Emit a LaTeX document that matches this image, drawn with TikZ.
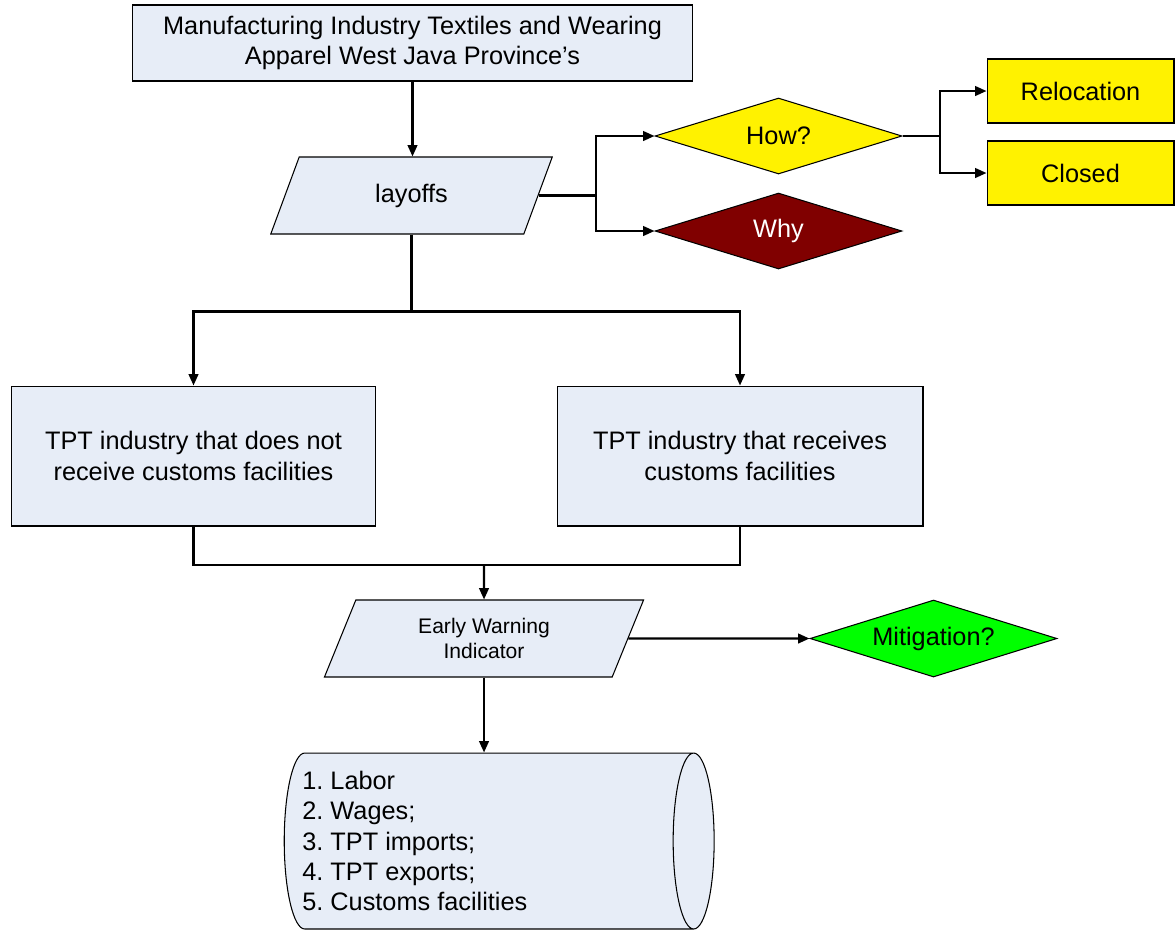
\documentclass[tikz,border=0pt]{standalone}
\usepackage{fontspec}
\setmainfont{Liberation Sans}
\usetikzlibrary{shapes.geometric,arrows.meta}
\definecolor{boxblue}{RGB}{231,237,247}
\definecolor{whyred}{RGB}{128,0,0}
\tikzstyle{procbox}=[rectangle,draw,fill=boxblue,line width=0.6pt,inner sep=2pt,align=center,font=\fontsize{14.4}{17.3}\selectfont]
\tikzstyle{iobox}=[trapezium,trapezium left angle=68.7,trapezium right angle=111.3,trapezium stretches=true,draw,fill=boxblue,line width=0.6pt,inner sep=0pt,align=center,font=\fontsize{14.4}{17.3}\selectfont]
\tikzstyle{decision}=[diamond,shape aspect=3.2,draw,line width=0.6pt,inner sep=0pt,minimum width=4.94cm,minimum height=1.52cm,font=\fontsize{14.4}{17.3}\selectfont]

\begin{document}
\frenchspacing
\begin{tikzpicture}[x=0.02cm,y=0.02cm,>={Triangle[length=6.5pt,width=5.5pt]}]
    \tikzstyle{link}=[line width=1.2pt,->]
    \tikzstyle{endbox}=[procbox,fill=yellow,minimum width=3.74cm,minimum height=1.28cm]
    \useasboundingbox (0,0) rectangle (1175,-931);

    \node[procbox,minimum width=11.22cm,minimum height=1.52cm] (top) at (412.5,-43)
        {Manufacturing Industry Textiles and Wearing\\Apparel West Java Province’s};
    \node[iobox,minimum width=5.66cm,minimum height=1.54cm] (lay) at (411.5,-195.5) {layoffs};
    \node[decision,fill=yellow] (how) at (778.5,-136) {How?};
    \node[decision,fill=whyred,text=white] (why) at (778.5,-231) {Why};
    \node[endbox] (reloc) at (1080.5,-91) {Relocation};
    \node[endbox] (closed) at (1080.5,-173) {Closed};

    \node[procbox,minimum width=7.3cm,minimum height=2.8cm] (nocf) at (193.5,-456)
        {TPT industry that does not\\receive customs facilities};
    \node[procbox,minimum width=7.32cm,minimum height=2.8cm] (cf) at (740,-456)
        {TPT industry that receives\\customs facilities};

    \node[iobox,minimum width=6.4cm,minimum height=1.54cm,font=\fontsize{12}{14.7}\selectfont] (ewi) at (484,-638.5)
        {Early Warning\\Indicator};
    \node[decision,fill=green,minimum height=1.54cm] (mit) at (933.5,-638.5) {Mitigation?};

    \node[cylinder,shape aspect=3.5,draw,fill=boxblue,line width=0.6pt,minimum width=3.52cm,minimum height=8.6cm] (ind) at (485,-841) {};
    \node[anchor=west,align=left,inner sep=0pt,font=\fontsize{14.4}{17.3}\selectfont] (indlist) at (302,-841)
        {1. Labor\\2. Wages;\\3. TPT imports;\\4. TPT exports;\\5. Customs facilities};

    \coordinate (howsplit) at (596,0);
    \coordinate (endsplit) at (940,0);
    \coordinate (merge) at (484,-565);

    \draw[link] (top.south) -- (top.south |- lay.north);
    \draw[link] (lay.east) -- (lay.east -| howsplit) |- (how.west);
    \draw[link] (lay.east) -- (lay.east -| howsplit) |- (why.west);
    \draw[link] (how.east) -- (how.east -| endsplit) |- (reloc.west);
    \draw[link] (how.east) -- (how.east -| endsplit) |- (closed.west);
    \draw[link] (lay.south) -- ++(0,-77) -| (nocf.north);
    \draw[link] (lay.south) -- ++(0,-77) -| (cf.north);
    \draw[line width=1.2pt] (nocf.south) |- (merge) -| (cf.south);
    \draw[link] (merge) -- (ewi.north);
    \draw[link] (ewi.east) -- (mit.west);
    \draw[link] (ewi.south) -- (ewi.south |- ind.north);
\end{tikzpicture}
\end{document}
